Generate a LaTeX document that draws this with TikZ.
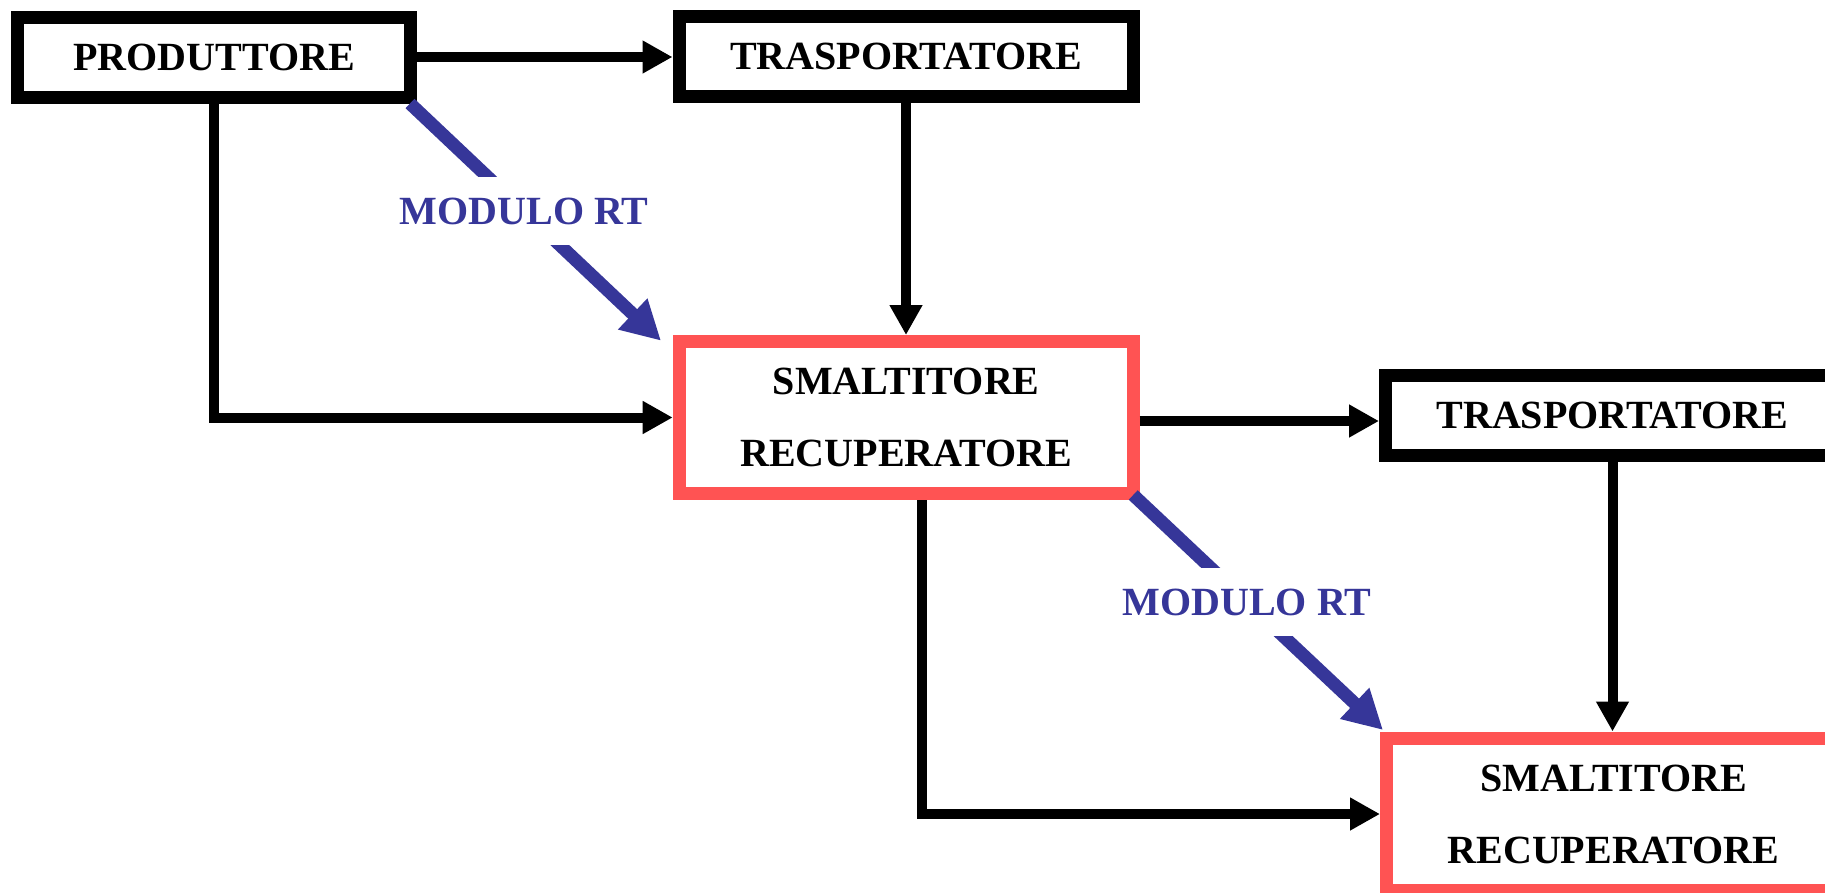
\documentclass[tikz,border=0pt]{standalone}
\usepackage{fontspec}
\setmainfont{Liberation Serif}
\usetikzlibrary{arrows.meta,calc}
\definecolor{rtblue}{RGB}{54,54,153}
\definecolor{boxred}{RGB}{255,83,83}
\begin{document}
\begin{tikzpicture}[x=1pt,y=-1pt,
  blackbox/.style={draw=black, line width=13pt, minimum width=454pt, minimum height=80pt,
    inner sep=0pt, font=\fontsize{40}{48}\selectfont\bfseries},
  redbox/.style={draw=boxred, line width=13pt, minimum width=454pt, minimum height=152pt,
    inner sep=0pt, align=center, font=\fontsize{40}{72}\selectfont\bfseries},
  flow/.style={draw=black, line width=10pt, -{Triangle[length=30pt,width=31pt]}},
  rtarrow/.style={draw=rtblue, line width=13pt, -{Triangle[length=39pt,width=40pt]}},
  rtlabel/.style={fill=white, text=rtblue, font=\fontsize{40}{48}\selectfont\bfseries,
    text height=27pt, text depth=0pt, inner xsep=4pt, inner ysep=20.5pt}]
\useasboundingbox (0,0) rectangle (1825,892);
\clip (0,0) rectangle (1825,892);

% boxes
\node[blackbox, minimum width=393pt] (prod) at (214,57) {PRODUTTORE};
\node[blackbox] (tr1) at (906,56.8) {TRASPORTATORE};
\node[redbox] (sr1) at (906.2,417.5) {SMALTITORE\\RECUPERATORE};
\node[blackbox] (tr2) at (1612.5,415.8) {TRASPORTATORE};
\node[redbox] (sr2) at (1613.5,814) {SMALTITORE\\RECUPERATORE};

% black flow connectors
\draw[flow] (prod.east) -- (prod.east -| tr1.west);
\draw[flow] (prod.south) |- (sr1.west);
\draw[flow] (tr1.south) -- (tr1.south |- sr1.north);
\coordinate (a1) at ([yshift=-3.5pt]sr1.east);
\draw[flow] (a1) -- (a1 -| tr2.west);
\coordinate (a2) at ([xshift=16pt]sr1.south);
\draw[flow] (a2) |- (sr2.west);
\draw[flow] (tr2.south) -- (tr2.south |- sr2.north);

% blue MODULO RT arrows
\coordinate (b1s) at ([xshift=-7pt]prod.south east);
\coordinate (b1e) at ([xshift=-11.7pt,yshift=-5.7pt]sr1.north west);
\draw[rtarrow] (b1s) -- node[rtlabel, pos=0.455] (l1) {MODULO RT} (b1e);
\coordinate (b2s) at ([xshift=-6.5pt,yshift=5pt]sr1.south east);
\coordinate (b2e) at ([xshift=3pt,yshift=1.5pt]sr2.north west);
\draw[rtarrow] (b2s) -- node[rtlabel, pos=0.455] (l2) {MODULO RT} (b2e);
\end{tikzpicture}
\end{document}
